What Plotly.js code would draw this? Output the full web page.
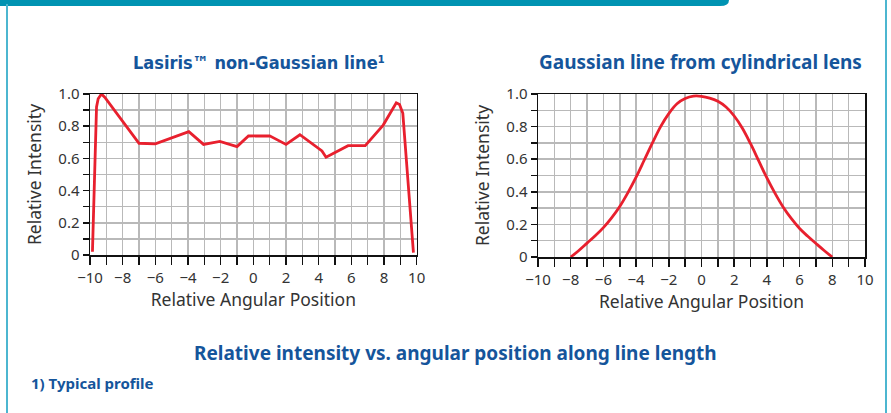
<!DOCTYPE html>
<html>
<head>
<meta charset="utf-8">
<script src="https://cdn.plot.ly/plotly-3.0.1.min.js"></script>
<style>html,body{margin:0;padding:0;background:#fff;}#chart{width:891px;height:413px;}</style>
</head>
<body>
<div id="chart"></div>
<script>
// Left chart: Lasiris non-Gaussian line (typical profile)
const lasirisX = [-9.85, -9.6, -9.5, -9.3, -9.1, -7.0, -6.0, -3.95, -3.05, -2.05, -1.0, -0.3, 1.0, 2.0, 2.85, 4.2, 4.45, 5.8, 6.85, 7.95, 8.75, 8.95, 9.15, 9.8];
const lasirisY = [0.02, 0.92, 0.97, 1.0, 0.98, 0.694, 0.69, 0.766, 0.687, 0.706, 0.673, 0.739, 0.74, 0.687, 0.747, 0.646, 0.607, 0.679, 0.679, 0.807, 0.945, 0.935, 0.88, 0.015];

// Right chart: Gaussian line from cylindrical lens (read every 0.5)
const gaussX = [-8, -7.5, -7, -6.5, -6, -5.5, -5, -4.5, -4, -3.5, -3, -2.5, -2, -1.5, -1, -0.5, 0,
                0.5, 1, 1.5, 2, 2.5, 3, 3.5, 4, 4.5, 5, 5.5, 6, 6.5, 7, 7.5, 8];
const gaussY = [0.0, 0.04, 0.085, 0.13, 0.18, 0.24, 0.31, 0.395, 0.49, 0.595, 0.70, 0.80, 0.88, 0.94, 0.972, 0.987, 0.986,
                0.975, 0.955, 0.92, 0.865, 0.79, 0.695, 0.59, 0.485, 0.39, 0.305, 0.235, 0.175, 0.127, 0.083, 0.04, 0.0];

// Tick labels
const xTickVals = [-10, -8, -6, -4, -2, 0, 2, 4, 6, 8, 10];
const xTickText = ['\u221210', '\u22128', '\u22126', '\u22124', '\u22122', '0', '2', '4', '6', '8', '10'];
const yTickVals = [0, 0.2, 0.4, 0.6, 0.8, 1.0];
const yTickText = ['0', '0.2', '0.4', '0.6', '0.8', '1.0'];

const W = 891, H = 413;
const px = v => v / W;
const py = v => 1 - v / H;

const BLUE = '#15559b';
const RED = '#e8202e';
const GRID = '#b9b9b9';
const AXFONT = 'Noto Sans, Open Sans, sans-serif';

function xAxis(domain, anchor) {
  return {
    domain: domain, anchor: anchor, range: [-10, 10],
    tickvals: xTickVals, ticktext: xTickText,
    ticks: 'outside', ticklen: 8, tickwidth: 1.5, tickcolor: '#111',
    showline: true, linecolor: '#111', linewidth: 1.5, mirror: true,
    showgrid: true, gridcolor: GRID, gridwidth: 1.5, zeroline: false,
    minor: {dtick: 1, tick0: 0, showgrid: true, gridcolor: GRID, gridwidth: 1.5, ticks: 'outside', ticklen: 8, tickwidth: 1.5, tickcolor: '#111'},
    tickfont: {family: AXFONT, size: 15, color: '#333'},
    title: {text: 'Relative Angular Position', font: {family: AXFONT, size: 17.5, color: '#333'}, standoff: 5},
    fixedrange: true
  };
}
function yAxis(domain, anchor) {
  return {
    domain: domain, anchor: anchor, range: [0, 1.0],
    tickvals: yTickVals, ticktext: yTickText,
    ticks: 'outside', ticklen: 6, tickwidth: 1.5, tickcolor: '#111',
    showline: true, linecolor: '#111', linewidth: 1.5, mirror: true,
    showgrid: true, gridcolor: GRID, gridwidth: 1.5, zeroline: false,
    minor: {dtick: 0.1, tick0: 0, showgrid: true, gridcolor: GRID, gridwidth: 1.5, ticks: 'outside', ticklen: 6, tickwidth: 1.5, tickcolor: '#111'},
    tickfont: {family: AXFONT, size: 15, color: '#333'},
    title: {text: 'Relative Intensity', font: {family: AXFONT, size: 17.5, color: '#333'}, standoff: 12},
    fixedrange: true
  };
}

const data = [
  {x: lasirisX, y: lasirisY, xaxis: 'x', yaxis: 'y', type: 'scatter', mode: 'lines',
   line: {color: RED, width: 2.8, shape: 'linear'}, hoverinfo: 'skip'},
  {x: gaussX, y: gaussY, xaxis: 'x2', yaxis: 'y2', type: 'scatter', mode: 'lines',
   line: {color: RED, width: 2.8, shape: 'spline', smoothing: 1}, hoverinfo: 'skip'}
];

const barPath = 'M ' + px(0) + ',' + py(-2) + ' L ' + px(729) + ',' + py(-2) +
  ' L ' + px(729) + ',' + py(0) +
  ' Q ' + px(729) + ',' + py(6) + ' ' + px(720) + ',' + py(6) +
  ' L ' + px(0) + ',' + py(6) + ' Z';

const layout = {
  width: W, height: H,
  margin: {l: 0, r: 0, t: 0, b: 0},
  paper_bgcolor: '#fff', plot_bgcolor: '#fff',
  showlegend: false,
  xaxis: xAxis([px(90), px(416.7)], 'y'),
  yaxis: yAxis([1 - 255 / H, 1 - 94 / H], 'x'),
  xaxis2: xAxis([px(538), px(865)], 'y2'),
  yaxis2: yAxis([1 - 257 / H, 1 - 94 / H], 'x2'),
  shapes: [
    {type: 'path', xref: 'paper', yref: 'paper', path: barPath, fillcolor: '#0093b2', line: {width: 0}},
    {type: 'line', xref: 'paper', yref: 'paper', x0: px(7), x1: px(7), y0: 0, y1: py(4), line: {color: '#4cb6d0', width: 2}},
    {type: 'line', xref: 'paper', yref: 'paper', x0: px(886), x1: px(886), y0: 0, y1: 1, line: {color: '#4cb6d0', width: 2}}
  ],
  annotations: [
    {text: '<b>Lasiris\u2122 non-Gaussian line\u00b9</b>', xref: 'paper', yref: 'paper', x: px(259), y: py(62),
     xanchor: 'center', yanchor: 'middle', showarrow: false,
     font: {family: 'DejaVu Sans Condensed, Liberation Sans Narrow, sans-serif', size: 18, color: BLUE, weight: 900}},
    {text: '<b>Gaussian line from cylindrical lens</b>', xref: 'paper', yref: 'paper', x: px(700), y: py(62),
     xanchor: 'center', yanchor: 'middle', showarrow: false,
     font: {family: AXFONT, size: 19, color: BLUE}},
    {text: '<b>Relative intensity vs. angular position along line length</b>', xref: 'paper', yref: 'paper', x: px(455), y: py(353),
     xanchor: 'center', yanchor: 'middle', showarrow: false,
     font: {family: AXFONT, size: 19, color: BLUE}},
    {text: '<b>1) Typical profile</b>', xref: 'paper', yref: 'paper', x: px(29), y: py(383),
     xanchor: 'left', yanchor: 'middle', showarrow: false,
     font: {family: AXFONT, size: 15, color: BLUE}}
  ]
};

Plotly.newPlot('chart', data, layout, {displayModeBar: false, staticPlot: true});
</script>
</body>
</html>
